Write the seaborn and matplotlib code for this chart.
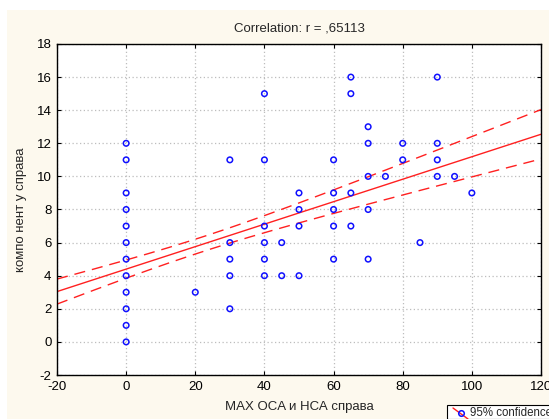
import numpy as np
import pandas as pd
import matplotlib
matplotlib.use("Agg")
import matplotlib.pyplot as plt
from matplotlib.lines import Line2D
from matplotlib.patches import Rectangle
import seaborn as sns

# ---- data (unique points + estimated number of overlapping cases) ----
x_vals = [0]*12 + [20] + [30]*5 + [40]*6 + [45]*2 + [50]*4 + [60]*5 + [65]*4 + [70]*5 + [75] + [80]*2 + [85] + [90]*4 + [95] + [100]
y_vals = ([12, 11, 9, 8, 7, 6, 5, 4, 3, 2, 1, 0] + [3] + [11, 6, 5, 4, 2] + [15, 11, 7, 6, 5, 4]
          + [6, 4] + [9, 8, 7, 4] + [11, 9, 8, 7, 5] + [16, 15, 9, 7] + [13, 12, 10, 8, 5]
          + [10] + [12, 11] + [6] + [16, 12, 11, 10] + [10] + [9])
n_cases = ([1, 1, 1, 2, 4, 10, 15, 18, 17, 4, 2, 1] + [1] + [1, 1, 1, 2, 1] + [1, 1, 1, 1, 2, 1]
           + [1, 2] + [1, 1, 1, 2] + [1, 1, 1, 1, 2] + [1, 1, 1, 1] + [1, 1, 1, 1, 1]
           + [1] + [1, 1] + [1] + [1, 1, 1, 1] + [1] + [1])
x_ticks = [-20, 0, 20, 40, 60, 80, 100, 120]
y_ticks = [-2, 0, 2, 4, 6, 8, 10, 12, 14, 16, 18]
title_text = "Correlation: r = ,65113"
x_label = "MAX OCA и НСА справа"
y_label = "компо нент у справа"
legend_label = "95% confidence"

df = pd.DataFrame({"x": x_vals, "y": y_vals})

# regression + 95% confidence band for the mean, over all cases
x = np.repeat(np.asarray(x_vals, float), n_cases)
y = np.repeat(np.asarray(y_vals, float), n_cases)
n = len(x)
b, a = np.polyfit(x, y, 1)
resid = y - (a + b * x)
s = np.sqrt(np.sum(resid**2) / (n - 2))
xbar = x.mean()
sxx = np.sum((x - xbar) ** 2)
tval = 1.96 + 2.4 / n  # approx t(0.975, n-2)
xs = np.linspace(-20, 120, 200)
yh = a + b * xs
se = s * np.sqrt(1.0 / n + (xs - xbar) ** 2 / sxx)
fit_df = pd.DataFrame({"x": xs, "fit": yh, "lo": yh - tval * se, "hi": yh + tval * se})

sns.set_style("ticks")
plt.rcParams["font.family"] = ["Liberation Sans", "DejaVu Sans"]

W, H = 549, 419
fig = plt.figure(figsize=(W / 100, H / 100), dpi=100)
fig.patch.set_facecolor("white")
# cream panel
fig.patches.append(Rectangle((7 / W, 0), 1 - 7 / W, 1 - 10 / H, transform=fig.transFigure,
                             facecolor="#FDF9EE", edgecolor="none", zorder=-10))

ax = fig.add_axes([57 / W, (H - 375) / H, (541 - 57) / W, (375 - 44) / H])
ax.set_facecolor("white")

ax.grid(True, linestyle=(0, (1, 2)), color="#BDBDBD", linewidth=0.9)
ax.set_axisbelow(True)

sns.lineplot(data=fit_df, x="x", y="fit", ax=ax, color="#FF2020", linewidth=1.0, estimator=None)
sns.lineplot(data=fit_df, x="x", y="lo", ax=ax, color="#FF2020", linewidth=1.0, estimator=None,
             dashes=False, linestyle=(0, (8, 5)))
sns.lineplot(data=fit_df, x="x", y="hi", ax=ax, color="#FF2020", linewidth=1.0, estimator=None,
             dashes=False, linestyle=(0, (8, 5)))

sns.scatterplot(data=df, x="x", y="y", ax=ax, marker="o", s=16, facecolor="none",
                edgecolor="#1010FF", linewidth=1.1, zorder=5)

ax.set_xlim(-20, 120)
ax.set_ylim(-2, 18)
ax.set_xticks(x_ticks)
ax.set_yticks(y_ticks)
ax.set_xticklabels([str(t) for t in x_ticks])
ax.set_yticklabels([str(t) for t in y_ticks])
ax.tick_params(direction="in", top=True, right=True, length=3, width=0.8,
               labelsize=9.5, colors="black", pad=4)
for sp in ax.spines.values():
    sp.set_color("black")
    sp.set_linewidth(1.0)

ax.set_title(title_text, fontsize=9.5, pad=9)
ax.set_xlabel(x_label, fontsize=9.5, labelpad=6)
ax.set_ylabel(y_label, fontsize=9.5, labelpad=7)

# legend box (cut off at the right edge like the reference)
lx0, ly0 = 447, 405
fig.patches.append(Rectangle((lx0 / W, 0), (W - lx0) / W + 0.01, (H - ly0) / H,
                             transform=fig.transFigure, facecolor="white",
                             edgecolor="black", linewidth=0.8, zorder=5))
fig.lines.append(Line2D([453 / W, 468 / W], [(H - 408) / H, (H - 419) / H],
                        transform=fig.transFigure, color="#FF2020", linewidth=1.0, zorder=6))
fig.lines.append(Line2D([461 / W], [(H - 413) / H], transform=fig.transFigure, marker="o",
                        markersize=4, markerfacecolor="none", markeredgecolor="#1010FF",
                        markeredgewidth=1.1, linestyle="none", zorder=7))
fig.text(470 / W, (H - 413) / H, legend_label, fontsize=8.3, va="center", ha="left", zorder=8)

fig.savefig("out.png", dpi=100, facecolor=fig.get_facecolor())
